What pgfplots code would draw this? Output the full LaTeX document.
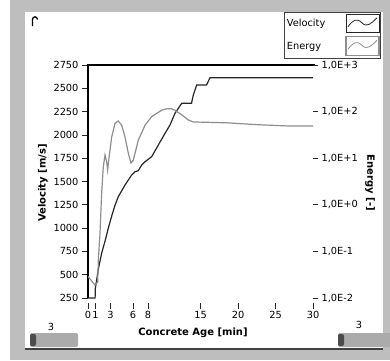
\documentclass[border=0pt]{standalone}
\usepackage{fontspec}
\setmainfont{DejaVu Sans}
\usepackage{pgfplots}
\pgfplotsset{compat=1.18}

\definecolor{velcol}{HTML}{262626}
\definecolor{enecol}{HTML}{8E8E8E}
\definecolor{framegray}{HTML}{BEBEBE}
\definecolor{bargray}{HTML}{ABABAB}

\newcommand{\tickfont}{\fontsize{9.8}{11}\selectfont}
\newcommand{\labfont}{\bfseries\fontsize{10}{12}\selectfont}

% legend samples: a small wave inside a box
\pgfplotsset{
  velleg/.style={legend image code/.code={
    \draw[black!85, line width=0.8pt] (0pt,-9pt) rectangle (33pt,9pt);
    \draw[velcol, line width=0.8pt] (2pt,-3pt) .. controls (7pt,4pt) and (11pt,6pt) .. (16pt,1pt)
      .. controls (21pt,-4pt) and (25pt,0pt) .. (31pt,6pt);
  }},
  eneleg/.style={legend image code/.code={
    \path (0pt,-9.5pt) rectangle (33pt,9.5pt);
    \draw[enecol, line width=0.8pt] (2pt,-3pt) .. controls (7pt,4pt) and (11pt,6pt) .. (16pt,1pt)
      .. controls (21pt,-4pt) and (25pt,0pt) .. (31pt,6pt);
  }},
}

% Ultrasonic test record: pulse velocity and energy over concrete age
\pgfplotstableread{
t     v
0     250
0.95  250
0.97  350
1.38  560
1.82  730
2.27  860
2.71  1000
3.16  1130
3.60  1245
4.04  1337
4.93  1462
5.82  1570
6.27  1605
6.71  1616
7.16  1677
7.60  1712
8.49  1766
9.38  1892
10.27 2017
10.93 2106
11.60 2232
12.50 2339
13.80 2339
14.04 2428
14.49 2535
15.80 2535
16.27 2614
30    2614
}\velocity

\pgfplotstableread{
t     E
0     0.029
0.93  0.019
1.29  0.022
1.38  0.066
1.60  0.245
1.82  1.77
2.04  6.6
2.27  11.7
2.49  8.4
2.62  5.6
2.70  7.5
3.16  28.8
3.60  56
4.04  63
4.49  51
4.93  28.8
5.38  12.7
5.73  7.9
6.04  9.1
6.71  24.5
7.60  51
8.49  78
9.82  107
10.50 115
11.16 115
11.60 107
12.50 85
13.40 66
14.04 60
18.50 57.5
22.50 52.5
26.90 49
30    49
}\energy

\begin{document}
\begin{tikzpicture}
% panel frame, scroll bars and corner icon
\begin{scope}[x=1pt,y=-1pt]
\fill[white] (0,0) rectangle (390,360);
\useasboundingbox (0,0) rectangle (390,360);
\fill[framegray] (10,0) rectangle (390,360);
\fill[white] (25,12) rectangle (383,348.5);
\draw[black!75, line width=1.5pt] (25,349) -- (383,349);
\fill[bargray, rounded corners=2pt] (30,333) rectangle (78,347);
\fill[black!70, rounded corners=2pt] (30,334) rectangle (36,346);
\fill[bargray, rounded corners=2pt] (338,333) rectangle (392,347);
\fill[black!70, rounded corners=2pt] (338,334) rectangle (344,346);
\node[font=\tickfont] at (51,327) {3};
\node[font=\tickfont] at (359,325) {3};
\draw[line width=1.3pt] (32.5,26) -- (32.5,19.5) to[out=90,in=180] (35,16.8) to[out=0,in=100] (37.5,19.5);
\end{scope}

% velocity axis (left)
\begin{axis}[
  at={(88pt,-298pt)}, anchor=south west,
  scale only axis, width=225pt, height=233pt,
  xmin=0, xmax=30, ymin=250, ymax=2750,
  axis line style={draw=none},
  xtick={0,1,3,6,8,15,20,25,30},
  ytick={250,500,...,2750},
  tick align=outside, tick pos=left,
  major tick length=6pt,
  tick style={black!85, line width=0.8pt},
  xtick style={yshift=-5pt},
  xticklabel style={yshift=-4pt},
  ticklabel style={font=\tickfont},
  /pgf/number format/assume math mode=true,
  /pgf/number format/1000 sep={},
  scaled ticks=false,
  xlabel={Concrete Age [min]},
  ylabel={Velocity [m/s]},
  every axis x label/.style={at={(axis description cs:0.4667,-0.150)}, anchor=center, font=\labfont},
  every axis y label/.style={at={(axis description cs:-0.2,0.4936)}, anchor=center, rotate=90, font=\labfont},
  legend style={at={(axis description cs:1.302,1.2275)}, anchor=north east,
    draw=black!75, line width=0.8pt, fill=white,
    inner xsep=1pt, inner ysep=2pt, row sep=3pt,
    font=\tickfont,
    /tikz/every odd column/.append style={column sep=18pt}},
  legend cell align=left, legend plot pos=right,
  clip=false,
]
\draw[black, line width=1.4pt] (rel axis cs:0,0) -- (rel axis cs:0,1) -- (rel axis cs:1.01,1);
\addplot[velcol, line width=1.2pt, velleg] table[x=t, y=v] {\velocity};
\addlegendentry{Velocity}
\addlegendimage{enecol, line width=1.2pt, eneleg}
\addlegendentry{Energy}
\end{axis}

% energy axis (right, logarithmic)
\begin{axis}[
  at={(88pt,-298pt)}, anchor=south west,
  scale only axis, width=225pt, height=233pt,
  xmin=0, xmax=30, ymode=log, ymin=1e-2, ymax=1e3,
  axis line style={draw=none},
  xtick=\empty,
  ytick={1e-2,1e-1,1,10,100,1000},
  yticklabels={{1,0E-2},{1,0E-1},{1,0E+0},{1,0E+1},{1,0E+2},{1,0E+3}},
  yminorticks=false,
  tick align=outside, ytick pos=right,
  major tick length=5pt,
  tick style={black!85, line width=0.8pt},
  ticklabel style={font=\tickfont},
  ylabel={Energy [-]},
  every axis y label/.style={at={(axis description cs:1.2533,0.4936)}, anchor=center, rotate=-90, font=\labfont},
]
\addplot[enecol, line width=1.2pt] table[x=t, y=E] {\energy};
\end{axis}
\end{tikzpicture}
\end{document}
